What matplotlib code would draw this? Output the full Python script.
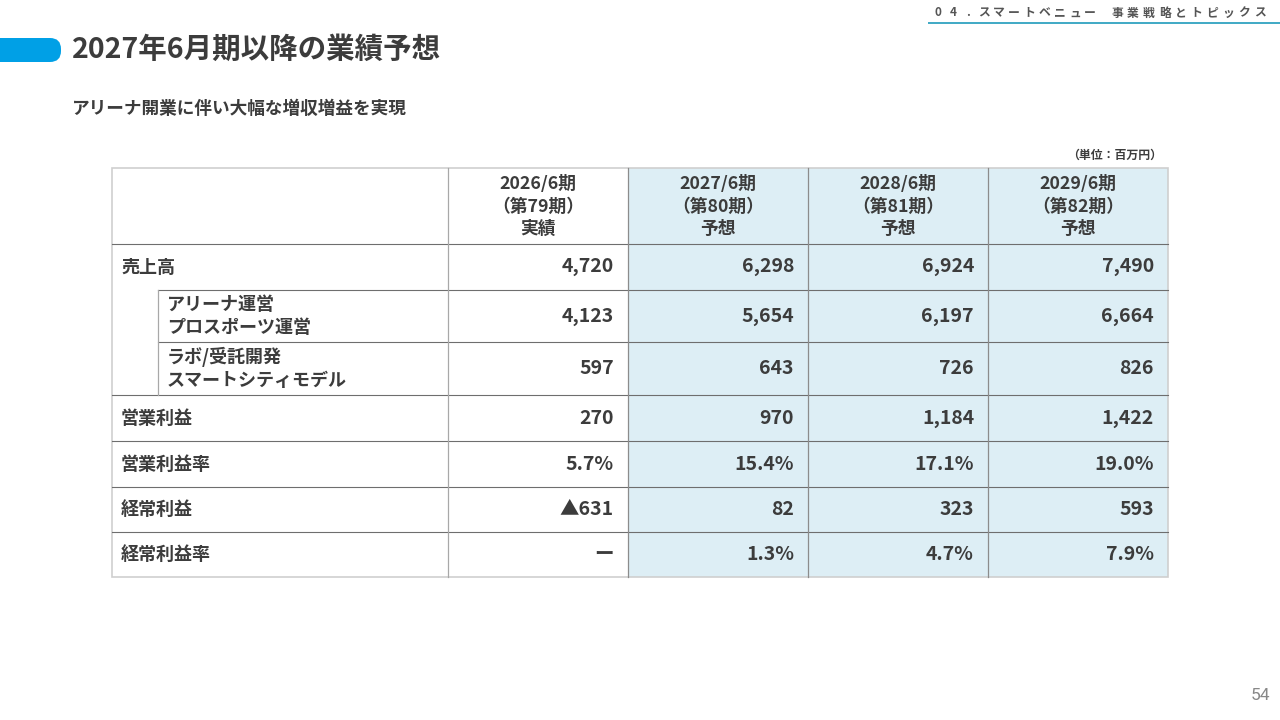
import matplotlib.pyplot as plt
from matplotlib.patches import FancyBboxPatch, Rectangle

plt.rcParams["font.family"] = ["Noto Sans CJK JP", "DejaVu Sans"]

# table data (unit: million yen)
PERIODS = ["2026/6期", "2027/6期", "2028/6期", "2029/6期"]
TERMS = ["（第79期）", "（第80期）", "（第81期）", "（第82期）"]
STATUS = ["実績", "予想", "予想", "予想"]

ROW_LABELS = [
    "売上高",
    "アリーナ運営\nプロスポーツ運営",
    "ラボ/受託開発\nスマートシティモデル",
    "営業利益",
    "営業利益率",
    "経常利益",
    "経常利益率",
]
SUB_ROWS = [False, True, True, False, False, False, False]

SALES = [4720, 6298, 6924, 7490]
ARENA = [4123, 5654, 6197, 6664]
LAB = [597, 643, 726, 826]
OP_PROFIT = [270, 970, 1184, 1422]
OP_MARGIN = [5.7, 15.4, 17.1, 19.0]
ORD_PROFIT = [-631, 82, 323, 593]
ORD_MARGIN = [None, 1.3, 4.7, 7.9]

ROWS = [SALES, ARENA, LAB, OP_PROFIT, OP_MARGIN, ORD_PROFIT, ORD_MARGIN]
IS_PCT = [False, False, False, False, True, False, True]

# colours
TEXT = "#3c3c3c"
BLUE_FILL = "#DDEEF5"
PILL = "#00A0E6"
TEAL = "#3FA9C5"
BORDER = "#CFCFCF"
HLINE = "#6E6E6E"
VLINE = "#A8A8A8"


def fmt(v, pct):
    if v is None:
        return "ー"
    if pct:
        return f"{v:.1f}%"
    if v < 0:
        return f"▲{abs(v):,}"
    return f"{v:,}"


# layout in pixels
X0, X_SUB, X_COL0 = 112, 158, 448
COL_W = 180
Y_TOP, Y_HEAD = 168, 244
ROW_H = [46, 52, 53, 46, 46, 45, 45]

fig = plt.figure(figsize=(12.8, 7.2), dpi=100)
ax = fig.add_axes([0, 0, 1, 1])
ax.set_xlim(0, 1280)
ax.set_ylim(720, 0)
ax.axis("off")

# header band
ax.add_patch(FancyBboxPatch((-40, 38), 101, 24, boxstyle="round,pad=0,rounding_size=11",
                            color=PILL, lw=0))
ax.text(72, 50, "2027年6月期以降の業績予想", fontsize=20.5, weight="bold",
        color=TEXT, va="center", ha="left")
ax.text(72, 109, "アリーナ開業に伴い大幅な増収増益を実現", fontsize=12.7,
        weight="bold", color=TEXT, va="center", ha="left")

# spaced section header, top right
crumb_a = "04.スマートベニュー"
crumb_b = "事業戦略とトピックス"
for i, ch in enumerate(crumb_a):
    ax.text(938 + i * 15.2, 13, ch, fontsize=8.5, weight="bold", color="#555555",
            ha="center", va="center")
for i, ch in enumerate(crumb_b):
    ax.text(1117 + i * 15.9, 13, ch, fontsize=8.5, weight="bold", color="#555555",
            ha="center", va="center")
ax.plot([928, 1280], [23, 23], color=TEAL, lw=1.4, solid_capstyle="butt")

ax.text(1162, 155, "（単位：百万円）", fontsize=8.6, weight="bold", color=TEXT,
        ha="right", va="center")

# table
n_cols = len(PERIODS)
x_right = X_COL0 + COL_W * n_cols
row_edges = [Y_HEAD]
for h in ROW_H:
    row_edges.append(row_edges[-1] + h)
y_bottom = row_edges[-1]

ax.add_patch(Rectangle((X_COL0 + COL_W, Y_TOP), COL_W * (n_cols - 1), y_bottom - Y_TOP,
                       color=BLUE_FILL, lw=0))

# header cells
for j in range(n_cols):
    cx = X_COL0 + COL_W * j + COL_W / 2
    for k, line in enumerate([PERIODS[j], TERMS[j], STATUS[j]]):
        ax.text(cx, 184 + k * 22.5, line, fontsize=12.8, weight="bold", color=TEXT,
                ha="center", va="center")

# body
for i, label in enumerate(ROW_LABELS):
    yc = (row_edges[i] + row_edges[i + 1]) / 2
    if SUB_ROWS[i]:
        l1, l2 = label.split("\n")
        ax.text(167, yc - 11.5, l1, fontsize=13, weight="bold", color=TEXT,
                ha="left", va="center")
        ax.text(167, yc + 11.5, l2, fontsize=13, weight="bold", color=TEXT,
                ha="left", va="center")
    else:
        ax.text(121, yc, label, fontsize=13, weight="bold", color=TEXT,
                ha="left", va="center")
    for j, v in enumerate(ROWS[i]):
        xr = X_COL0 + COL_W * (j + 1) - 14
        ax.text(xr, yc, fmt(v, IS_PCT[i]), fontsize=14, weight="bold", color=TEXT,
                ha="right", va="center")

# grid lines
ax.plot([X0, x_right], [Y_HEAD, Y_HEAD], color=HLINE, lw=0.8)
for i in range(1, len(ROW_LABELS)):
    y = row_edges[i]
    xs = X_SUB if SUB_ROWS[i] else X0
    ax.plot([xs, x_right], [y, y], color=HLINE, lw=0.8)

sub_top = row_edges[SUB_ROWS.index(True)]
sub_bot = row_edges[len(SUB_ROWS) - SUB_ROWS[::-1].index(True)]
ax.plot([X_SUB, X_SUB], [sub_top, sub_bot], color=VLINE, lw=0.9)
ax.plot([X_COL0, X_COL0], [Y_TOP, y_bottom], color=VLINE, lw=0.9)
for j in range(1, n_cols):
    x = X_COL0 + COL_W * j
    ax.plot([x, x], [Y_TOP, y_bottom], color="#8C8C8C", lw=0.9)

ax.add_patch(Rectangle((X0, Y_TOP), x_right - X0, y_bottom - Y_TOP, fill=False,
                       edgecolor=BORDER, lw=1.2))

ax.text(1260, 696, "54", fontsize=12.5, color="#888888", ha="center", va="center",
        family=["Roboto", "DejaVu Sans"])

fig.savefig("out.png", dpi=100, facecolor="white")
